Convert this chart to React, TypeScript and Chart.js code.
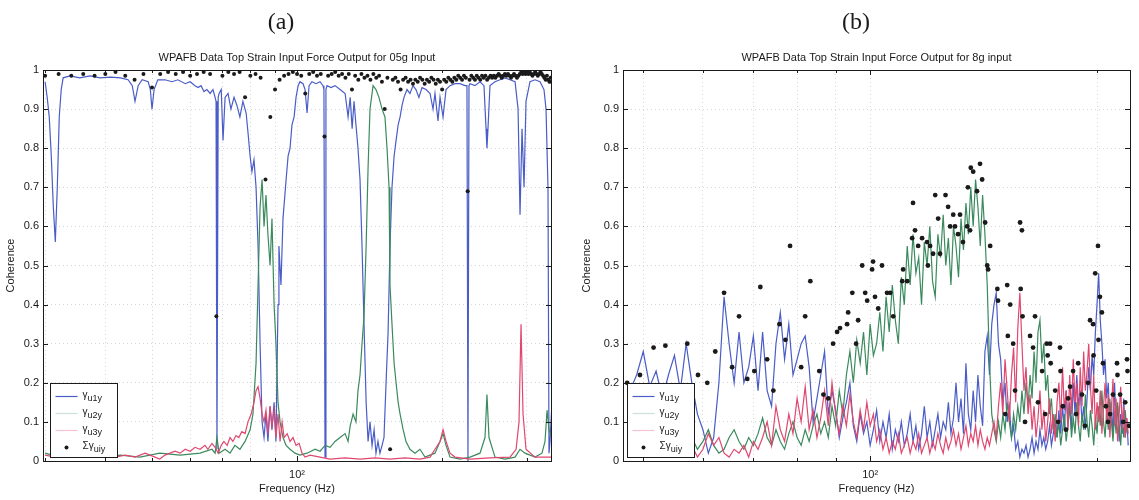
import { useEffect, useRef } from "react";
import { Chart, registerables } from "chart.js";

Chart.register(...registerables);

const FONT = '"Liberation Sans", Arial, Helvetica, sans-serif';
const INK = "#1a1a1a";
const GRID = "rgba(0,0,0,0.16)";
const BLUE = "#4a5cc8";
const GREEN = "#3b8a5e";
const RED = "#e0476f";

const coherenceTicks = [0, 0.1, 0.2, 0.3, 0.4, 0.5, 0.6, 0.7, 0.8, 0.9, 1];

// ---------------- (a) 0.5 g input ----------------
const aTitle = "WPAFB Data Top Strain Input Force Output for 05g Input";
const aRangeHz = [29.7, 336.5];
const aGridHz = [30, 40, 50, 60, 70, 80, 90, 100, 200, 300];

const aU1yHz = [
  30.0, 30.3, 30.6, 30.9, 31.2, 31.5, 31.8, 32.1, 32.4, 32.7,
  33.8, 35.4, 37.2, 39.0, 41.0, 43.0, 44.6, 45.5, 46.1, 46.8,
  47.7, 49.1, 49.6, 50.0, 50.5, 51.4, 53.2, 55.0, 56.6, 58.6,
  60.0, 61.4, 62.3, 63.2, 64.1, 65.0, 66.0, 66.9, 67.6, 67.9,
  68.2, 68.6, 68.9, 69.6, 70.2, 70.9, 71.9, 72.9, 74.0, 75.0,
  76.1, 77.2, 78.4, 79.1, 79.9, 80.6, 81.4, 82.2, 83.0, 83.8,
  84.6, 85.4, 86.2, 87.0, 87.9, 88.7, 89.6, 90.4, 91.3, 91.7,
  92.6, 93.5, 94.9, 95.8, 96.7, 97.6, 98.6, 99.5, 100.5, 101.4,
  102.9, 103.9, 104.9, 105.9, 107.4, 109.5, 111.6, 113.2, 113.7, 114.3,
  114.8, 115.4, 117.6, 119.9, 122.8, 125.8, 127.6, 128.9, 130.1, 131.3,
  132.5, 133.8, 135.1, 136.4, 137.7, 139.1, 140.4, 141.7, 143.1, 144.5,
  145.8, 147.2, 148.6, 150.1, 151.5, 153.0, 154.5, 155.9, 157.4, 159.0,
  160.5, 162.1, 163.6, 165.2, 166.7, 169.1, 171.5, 174.0, 176.5, 179.0,
  181.7, 185.2, 188.8, 191.5, 193.3, 196.1, 198.0, 200.9, 203.8, 207.7,
  212.7, 217.8, 223.1, 225.2, 226.3, 227.4, 228.5, 234.0, 239.7, 244.3,
  246.7, 247.8, 249.0, 251.4, 257.5, 263.7, 270.1, 276.6, 283.4, 287.5,
  290.2, 293.0, 295.8, 298.6, 304.4, 311.8, 319.3, 325.4, 328.6, 331.7,
  333.3, 334.9, 338.1,
];
const aU1y = [
  0.97, 0.93, 0.88, 0.78, 0.65, 0.56, 0.7, 0.88, 0.95, 0.98,
  0.985, 0.98, 0.985, 0.98, 0.982, 0.98, 0.975, 0.96, 0.92, 0.96,
  0.975, 0.97, 0.95, 0.9, 0.95, 0.975, 0.975, 0.97, 0.975, 0.965,
  0.97, 0.96, 0.955, 0.96, 0.945, 0.95, 0.94, 0.95, 0.93, 0.92,
  0.03, 0.93, 0.94, 0.95, 0.82, 0.93, 0.94, 0.9, 0.93, 0.91,
  0.88, 0.92, 0.89, 0.84, 0.78, 0.74, 0.77, 0.7, 0.55, 0.3,
  0.1, 0.06, 0.12, 0.05, 0.14, 0.08, 0.15, 0.05, 0.4, 0.55,
  0.45, 0.62, 0.72, 0.78, 0.8, 0.86, 0.88, 0.93, 0.96, 0.97,
  0.965, 0.95, 0.89, 0.96, 0.97, 0.965, 0.97, 0.96, 0.95, 0.01,
  0.95, 0.96, 0.955, 0.96, 0.95, 0.94, 0.88, 0.93, 0.85, 0.92,
  0.86, 0.8, 0.72, 0.55, 0.35, 0.15, 0.05, 0.1, 0.04, 0.08,
  0.02, 0.05, 0.02, 0.04, 0.06, 0.2, 0.33, 0.55, 0.7, 0.78,
  0.82, 0.86, 0.88, 0.91, 0.93, 0.95, 0.94, 0.96, 0.95, 0.93,
  0.955, 0.95, 0.94, 0.9, 0.94, 0.87, 0.93, 0.88, 0.95, 0.96,
  0.965, 0.965, 0.96, 0.96, 0.0, 0.96, 0.965, 0.96, 0.97, 0.96,
  0.85, 0.8, 0.85, 0.96, 0.97, 0.975, 0.98, 0.975, 0.97, 0.9,
  0.63, 0.85, 0.7, 0.92, 0.97, 0.975, 0.97, 0.95, 0.9, 0.7,
  0.02, 0.05, 0.15,
];

const aU2yHz = [
  30.0, 32.2, 35.4, 39.0, 43.0, 47.2, 51.9, 57.2, 62.9, 66.6,
  67.6, 68.2, 68.9, 70.9, 72.6, 74.3, 76.1, 78.0, 79.9, 81.0,
  82.2, 83.0, 83.8, 84.6, 85.4, 86.2, 87.0, 87.9, 88.7, 89.6,
  90.4, 91.3, 92.2, 93.5, 94.9, 96.7, 99.0, 101.4, 104.9, 109.0,
  111.6, 114.3, 117.1, 119.9, 122.8, 125.8, 127.6, 128.9, 130.7, 132.5,
  133.8, 135.1, 136.4, 137.7, 139.1, 140.4, 141.7, 143.8, 145.8, 147.9,
  150.1, 152.2, 153.7, 155.2, 155.9, 157.4, 159.0, 160.5, 162.1, 163.6,
  166.0, 168.3, 171.5, 175.7, 179.9, 184.3, 193.3, 198.0, 200.9, 203.8,
  207.7, 217.8, 228.5, 239.7, 245.5, 247.8, 250.2, 257.5, 270.1, 283.4,
  290.2, 297.2, 311.8, 322.3, 327.0, 330.2, 333.3, 339.8,
];
const aU2y = [
  0.02, 0.01, 0.015, 0.01, 0.015, 0.01, 0.02, 0.015, 0.02, 0.03,
  0.02, 0.06, 0.02, 0.03, 0.02, 0.04, 0.03, 0.05, 0.08, 0.12,
  0.25, 0.45, 0.65, 0.72, 0.6, 0.68, 0.58, 0.5, 0.62, 0.4,
  0.3, 0.15, 0.1, 0.06, 0.04, 0.03, 0.02, 0.015, 0.02, 0.03,
  0.025, 0.04, 0.035, 0.05, 0.06, 0.07, 0.05, 0.09, 0.12, 0.1,
  0.18, 0.22, 0.3, 0.37, 0.55, 0.75, 0.9, 0.96, 0.95, 0.93,
  0.9, 0.88, 0.8, 0.7, 0.45, 0.35, 0.25, 0.2, 0.15, 0.12,
  0.08, 0.05, 0.03, 0.02, 0.03, 0.01, 0.02, 0.05, 0.07, 0.04,
  0.01, 0.005, 0.01, 0.02, 0.06, 0.17, 0.06, 0.01, 0.005, 0.01,
  0.03, 0.02, 0.01, 0.02, 0.05, 0.13, 0.08, 0.05,
];

const aU3yHz = [
  30.0, 31.5, 33.0, 34.6, 36.3, 38.1, 40.0, 41.9, 44.0, 46.1,
  48.4, 50.7, 51.9, 53.2, 54.5, 55.8, 57.2, 58.6, 60.0, 61.4,
  62.9, 64.4, 65.3, 66.6, 67.6, 68.6, 69.6, 70.5, 71.6, 72.6,
  73.6, 74.7, 75.7, 76.8, 78.0, 79.1, 80.3, 81.4, 82.2, 83.0,
  83.8, 84.6, 85.4, 86.2, 87.0, 87.9, 88.7, 89.6, 90.4, 91.3,
  92.2, 93.1, 94.0, 95.4, 96.7, 98.1, 99.5, 101.0, 102.4, 103.9,
  106.4, 111.6, 117.1, 125.8, 135.1, 145.1, 155.9, 167.5, 179.9, 188.8,
  193.3, 198.0, 200.9, 203.8, 207.7, 212.7, 228.5, 251.4, 276.6, 284.8,
  288.8, 291.6, 294.4, 298.6, 311.8, 339.8,
];
const aU3y = [
  0.015, 0.01, 0.02, 0.015, 0.01, 0.015, 0.02, 0.01, 0.015, 0.01,
  0.02, 0.01, 0.005, 0.015, 0.02, 0.025, 0.02, 0.03, 0.025, 0.035,
  0.03, 0.04, 0.03, 0.045, 0.035, 0.02, 0.04, 0.05, 0.04, 0.06,
  0.05, 0.065, 0.06, 0.075, 0.07, 0.1, 0.12, 0.15, 0.18, 0.19,
  0.16, 0.12, 0.1, 0.13, 0.07, 0.14, 0.09, 0.13, 0.06, 0.12,
  0.05, 0.1, 0.06, 0.07, 0.05, 0.06, 0.04, 0.045, 0.02, 0.01,
  0.015, 0.01, 0.005, 0.008, 0.005, 0.008, 0.005, 0.008, 0.005, 0.01,
  0.03, 0.05, 0.08, 0.05, 0.02, 0.01, 0.005, 0.008, 0.01, 0.03,
  0.1, 0.35, 0.12, 0.03, 0.01, 0.01,
];

const aSumHz = [
  30, 32, 34, 36, 38, 40, 42, 44, 46, 48,
  50, 52, 54, 56, 58, 60, 62, 64, 66, 68,
  70, 72, 74, 76, 78, 80, 82, 84, 86, 88,
  90, 92, 94, 96, 98, 100, 102, 104, 106, 108,
  110, 112, 114, 116, 118, 120, 122, 124, 126, 128,
  130, 132, 134, 136, 138, 140, 142, 144, 146, 148,
  150, 152, 154, 156, 158, 160, 162, 164, 166, 168,
  170, 172, 174, 176, 178, 180, 182, 184, 186, 188,
  190, 192, 194, 196, 198, 200, 202, 204, 206, 208,
  210, 212, 214, 216, 218, 220, 222, 224, 226, 228,
  230, 232, 234, 236, 238, 240, 242, 244, 246, 248,
  250, 252, 254, 256, 258, 260, 262, 264, 266, 268,
  270, 272, 274, 276, 278, 280, 282, 284, 286, 288,
  290, 292, 294, 296, 298, 300, 302, 304, 306, 308,
  310, 312, 314, 316, 318, 320, 322, 324, 326, 328,
  330, 332, 334, 336,
];
const aSum = [
  0.985, 0.99, 0.985, 0.99, 0.985, 0.99, 0.995, 0.985, 0.975, 0.99,
  0.955, 0.99, 0.995, 0.99, 0.995, 0.985, 0.99, 0.995, 0.99, 0.37,
  0.985, 0.995, 0.99, 0.995, 0.93, 0.985, 0.99, 0.98, 0.72, 0.88,
  0.95, 0.975, 0.985, 0.99, 0.995, 0.99, 0.985, 0.94, 0.99, 0.995,
  0.985, 0.99, 0.83, 0.985, 0.99, 0.995, 0.985, 0.99, 0.98, 0.99,
  0.95, 0.985, 0.975, 0.99, 0.98, 0.985, 0.975, 0.99, 0.98, 0.985,
  0.97, 0.9, 0.98, 0.03, 0.975, 0.98, 0.97, 0.95, 0.975, 0.98,
  0.97, 0.975, 0.965, 0.975, 0.97, 0.98, 0.975, 0.965, 0.975, 0.97,
  0.98, 0.975, 0.965, 0.975, 0.97, 0.95, 0.975, 0.97, 0.98, 0.975,
  0.97, 0.98, 0.975, 0.985, 0.98, 0.975, 0.985, 0.98, 0.69, 0.975,
  0.985, 0.98, 0.975, 0.985, 0.98, 0.975, 0.985, 0.98, 0.985, 0.975,
  0.98, 0.985, 0.98, 0.985, 0.98, 0.985, 0.99, 0.985, 0.98, 0.985,
  0.99, 0.985, 0.99, 0.985, 0.98, 0.985, 0.99, 0.985, 0.98, 0.985,
  0.99, 0.995, 0.99, 0.995, 0.99, 0.995, 0.99, 0.995, 0.99, 0.985,
  0.99, 0.995, 0.99, 0.985, 0.99, 0.995, 0.99, 0.985, 0.98, 0.975,
  0.985, 0.975, 0.97, 0.98,
];

// ---------------- (b) 8 g input ----------------
const bTitle = "WPAFB Data Top Strain Input Force Output for 8g input";
const bRangeHz = [47.0, 221.2];
const bGridHz = [50, 60, 70, 80, 90, 100, 200];

const bHz = [
  48, 49, 50, 51, 52, 53, 54, 55, 56, 57,
  58, 59, 60, 61, 62, 63, 64, 65, 66, 67,
  68, 69, 70, 71, 72, 73, 74, 75, 76, 77,
  78, 79, 80, 81, 82, 83, 84, 85, 86, 87,
  88, 89, 90, 91, 92, 93, 94, 95, 96, 97,
  98, 99, 100, 101, 102, 103, 104, 105, 106, 107,
  108, 109, 110, 111, 112, 113, 114, 115, 116, 117,
  118, 119, 120, 121, 122, 123, 124, 125, 126, 127,
  128, 129, 130, 131, 132, 133, 134, 135, 136, 137,
  138, 139, 140, 141, 142, 143, 144, 145, 146, 147,
  148, 149, 150, 151, 152, 153, 154, 155, 156, 157,
  158, 159, 160, 161, 162, 163, 164, 165, 166, 167,
  168, 169, 170, 171, 172, 173, 174, 175, 176, 177,
  178, 179, 180, 181, 182, 183, 184, 185, 186, 187,
  188, 189, 190, 191, 192, 193, 194, 195, 196, 197,
  198, 199, 200, 201, 202, 203, 204, 205, 206, 207,
  208, 209, 210, 211, 212, 213, 214, 215, 216, 217,
  218, 219, 220,
];
const bU1y = [
  0.18, 0.22, 0.28, 0.19, 0.23, 0.16, 0.22, 0.27, 0.18, 0.3,
  0.2, 0.12, 0.08, 0.02, 0.06, 0.2, 0.42, 0.3, 0.2, 0.33,
  0.2, 0.24, 0.32, 0.18, 0.33, 0.18, 0.14, 0.3, 0.38, 0.26,
  0.35, 0.22, 0.26, 0.3, 0.32, 0.24, 0.1, 0.16, 0.22, 0.28,
  0.12, 0.18, 0.13, 0.06, 0.11, 0.15, 0.2, 0.09, 0.05, 0.12,
  0.07, 0.1, 0.04, 0.08, 0.13, 0.05, 0.1, 0.06, 0.12, 0.03,
  0.08, 0.05, 0.1, 0.04, 0.07, 0.12, 0.05, 0.09, 0.03, 0.07,
  0.14, 0.06, 0.1, 0.04, 0.08, 0.12, 0.06, 0.1, 0.08, 0.15,
  0.07, 0.11, 0.2, 0.1, 0.16, 0.07, 0.25, 0.12, 0.08, 0.18,
  0.1, 0.22, 0.14, 0.09, 0.28, 0.32, 0.22, 0.35, 0.4, 0.43,
  0.3, 0.26, 0.15, 0.2, 0.1, 0.14, 0.06, 0.09, 0.03, 0.05,
  0.01, 0.03, 0.02, 0.04, 0.01, 0.03, 0.06, 0.02, 0.05, 0.03,
  0.08, 0.04, 0.06, 0.03, 0.05, 0.09, 0.04, 0.07, 0.1, 0.06,
  0.13, 0.07, 0.14, 0.08, 0.18, 0.1, 0.15, 0.08, 0.2, 0.12,
  0.22, 0.14, 0.18, 0.1, 0.14, 0.08, 0.16, 0.24, 0.18, 0.27,
  0.22, 0.33, 0.4, 0.48, 0.36, 0.3, 0.22, 0.26, 0.16, 0.2,
  0.08, 0.15, 0.06, 0.2, 0.1, 0.14, 0.05, 0.12, 0.07, 0.16,
  0.06, 0.11, 0.04,
];
const bU2y = [
  0.02, 0.04, 0.01, 0.03, 0.05, 0.02, 0.04, 0.01, 0.03, 0.02,
  0.06, 0.03, 0.05, 0.08, 0.04, 0.02, 0.03, 0.06, 0.08, 0.05,
  0.03, 0.06, 0.04, 0.07, 0.11, 0.06, 0.04, 0.08, 0.05, 0.03,
  0.07, 0.1, 0.06, 0.04, 0.08, 0.05, 0.09, 0.12, 0.07, 0.1,
  0.06, 0.14, 0.09, 0.18, 0.12, 0.22, 0.28, 0.2, 0.31, 0.25,
  0.33, 0.22, 0.35, 0.27, 0.3, 0.38, 0.28, 0.42, 0.33, 0.45,
  0.36, 0.3, 0.47, 0.4, 0.55, 0.45, 0.58, 0.48, 0.52, 0.4,
  0.56, 0.5, 0.6, 0.46, 0.42, 0.58, 0.52, 0.63, 0.5, 0.57,
  0.45, 0.6, 0.55, 0.47, 0.62, 0.54, 0.66, 0.58, 0.7, 0.6,
  0.72, 0.65, 0.55, 0.68, 0.58, 0.45, 0.25, 0.12, 0.08, 0.05,
  0.1, 0.06, 0.12, 0.08, 0.15, 0.1, 0.06, 0.12, 0.08, 0.14,
  0.1, 0.18, 0.12, 0.2, 0.14, 0.22, 0.16, 0.28, 0.2, 0.33,
  0.36, 0.25, 0.3, 0.18, 0.22, 0.12, 0.16, 0.08, 0.12, 0.06,
  0.1, 0.04, 0.08, 0.12, 0.05, 0.09, 0.14, 0.06, 0.11, 0.07,
  0.15, 0.09, 0.05, 0.12, 0.08, 0.17, 0.1, 0.06, 0.13, 0.09,
  0.04, 0.11, 0.07, 0.14, 0.09, 0.18, 0.1, 0.06, 0.13, 0.08,
  0.16, 0.1, 0.05, 0.12, 0.07, 0.15, 0.09, 0.04, 0.11, 0.06,
  0.13, 0.08, 0.1,
];
const bU3y = [
  0.02, 0.01, 0.03, 0.01, 0.02, 0.04, 0.01, 0.02, 0.05, 0.02,
  0.04, 0.01, 0.03, 0.07, 0.04, 0.06, 0.02, 0.01, 0.03, 0.02,
  0.04, 0.01, 0.05, 0.03, 0.06, 0.1, 0.04, 0.14, 0.08, 0.05,
  0.12, 0.07, 0.16, 0.1, 0.19, 0.08, 0.13, 0.06, 0.11, 0.18,
  0.09, 0.2, 0.12, 0.07, 0.14, 0.09, 0.17, 0.1, 0.06, 0.13,
  0.08, 0.15, 0.09, 0.12, 0.05, 0.08, 0.03, 0.06, 0.02, 0.05,
  0.03, 0.07, 0.02, 0.04, 0.06, 0.02, 0.05, 0.03, 0.07, 0.02,
  0.04, 0.06, 0.02, 0.05, 0.03, 0.07, 0.04, 0.02, 0.06, 0.03,
  0.05, 0.08, 0.04, 0.07, 0.03, 0.06, 0.09, 0.04, 0.07, 0.05,
  0.09, 0.04, 0.08, 0.05, 0.03, 0.06, 0.04, 0.07, 0.1, 0.06,
  0.14, 0.2, 0.12, 0.26, 0.18, 0.1, 0.22, 0.29, 0.15, 0.34,
  0.43, 0.3, 0.18, 0.24, 0.12, 0.17, 0.08, 0.14, 0.06, 0.11,
  0.18, 0.08, 0.13, 0.05, 0.1, 0.16, 0.07, 0.12, 0.05, 0.15,
  0.2, 0.1, 0.24, 0.13, 0.18, 0.08, 0.22, 0.12, 0.26, 0.15,
  0.2, 0.09, 0.24, 0.14, 0.28, 0.18, 0.23, 0.3, 0.19, 0.12,
  0.22, 0.08, 0.15, 0.1, 0.18, 0.07, 0.14, 0.2, 0.1, 0.17,
  0.06, 0.13, 0.21, 0.09, 0.16, 0.05, 0.12, 0.19, 0.08, 0.14,
  0.06, 0.11, 0.07,
];

const bSumHz = [
  47.6, 49.5, 51.6, 53.5, 57.2, 59.1, 60.8, 62.3, 64.0, 65.6,
  67.0, 68.7, 70.2, 71.5, 73.0, 74.4, 75.8, 77.2, 78.3, 81.0,
  82.0, 83.3, 85.6, 86.7, 88.0, 89.3, 90.4, 91.2, 93.2, 93.5,
  94.7, 95.8, 96.4, 97.6, 98.5, 99.1, 100.6, 100.9, 101.5, 102.5,
  103.7, 105.3, 106.3, 107.3, 110.3, 110.6, 112.0, 113.7, 114.0, 114.7,
  115.8, 117.2, 119.0, 119.3, 120.1, 121.2, 122.0, 123.1, 123.8, 125.9,
  126.9, 127.7, 128.9, 129.6, 130.8, 131.6, 132.8, 134.5, 134.8, 135.7,
  136.0, 137.0, 138.6, 139.9, 140.8, 142.1, 143.0, 143.4, 144.3, 147.5,
  147.8, 151.1, 152.0, 152.3, 153.4, 154.8, 155.7, 158.1, 158.4, 159.0,
  159.3, 160.5, 163.0, 164.5, 165.5, 167.0, 169.1, 170.7, 171.5, 172.0,
  173.3, 173.6, 176.0, 177.6, 178.6, 178.9, 180.2, 181.9, 183.1, 184.2,
  185.9, 187.6, 188.8, 191.0, 192.8, 194.6, 195.8, 197.6, 197.9, 198.9,
  199.5, 200.6, 200.9, 201.8, 203.0, 203.7, 205.5, 206.8, 208.1, 210.0,
  212.6, 212.9, 214.6, 216.7, 218.0, 219.2, 219.5, 220.6,
];
const bSum = [
  0.2, 0.22, 0.29, 0.295, 0.3, 0.22, 0.2, 0.28, 0.43, 0.24,
  0.37, 0.21, 0.23, 0.445, 0.26, 0.18, 0.35, 0.31, 0.55, 0.24,
  0.37, 0.46, 0.23, 0.17, 0.16, 0.3, 0.33, 0.34, 0.35, 0.38,
  0.43, 0.3, 0.36, 0.5, 0.43, 0.41, 0.49, 0.51, 0.42, 0.39,
  0.5, 0.43, 0.43, 0.37, 0.46, 0.49, 0.46, 0.57, 0.66, 0.59,
  0.55, 0.57, 0.56, 0.5, 0.55, 0.53, 0.68, 0.62, 0.53, 0.68,
  0.65, 0.6, 0.63, 0.6, 0.58, 0.63, 0.56, 0.6, 0.7, 0.59,
  0.75, 0.74, 0.69, 0.76, 0.72, 0.61, 0.5, 0.49, 0.55, 0.44,
  0.41, 0.12, 0.45, 0.32, 0.4, 0.3, 0.18, 0.61, 0.44, 0.59,
  0.37, 0.1, 0.32, 0.29, 0.37, 0.15, 0.23, 0.12, 0.3, 0.27,
  0.3, 0.25, 0.18, 0.1, 0.29, 0.23, 0.14, 0.08, 0.16, 0.19,
  0.23, 0.12, 0.25, 0.17, 0.09, 0.2, 0.36, 0.35, 0.27, 0.48,
  0.18, 0.55, 0.31, 0.42, 0.38, 0.25, 0.14, 0.1, 0.12, 0.17,
  0.25, 0.22, 0.17, 0.1, 0.15, 0.26, 0.23, 0.09,
];

type Series = { hz: number[]; coh: number[]; color: string };

type PanelSpec = {
  tag: string;
  tagX: number;
  left: number;
  width: number;
  plotLeft: number;
  plotRight: number;
  yTitlePad: number;
  legendInset: number;
  title: string;
  rangeHz: number[];
  gridHz: number[];
  u1y: Series;
  u2y: Series;
  u3y: Series;
  sum: { hz: number[]; coh: number[]; radius: number };
};

const panels: PanelSpec[] = [
  {
    tag: "(a)",
    tagX: 281,
    left: 0,
    width: 570,
    plotLeft: 43,
    plotRight: 551,
    yTitlePad: 4,
    legendInset: 7,
    title: aTitle,
    rangeHz: aRangeHz,
    gridHz: aGridHz,
    u1y: { hz: aU1yHz, coh: aU1y, color: BLUE },
    u2y: { hz: aU2yHz, coh: aU2y, color: GREEN },
    u3y: { hz: aU3yHz, coh: aU3y, color: RED },
    sum: { hz: aSumHz, coh: aSum, radius: 2.0 },
  },
  {
    tag: "(b)",
    tagX: 286,
    left: 570,
    width: 569,
    plotLeft: 53,
    plotRight: 560,
    yTitlePad: 10,
    legendInset: 4,
    title: bTitle,
    rangeHz: bRangeHz,
    gridHz: bGridHz,
    u1y: { hz: bHz, coh: bU1y, color: BLUE },
    u2y: { hz: bHz, coh: bU2y, color: GREEN },
    u3y: { hz: bHz, coh: bU3y, color: RED },
    sum: { hz: bSumHz, coh: bSum, radius: 2.4 },
  },
];

const legendRows = [
  { main: "γ", sub: "u1y", color: BLUE, dot: false },
  { main: "γ", sub: "u2y", color: "rgba(90,160,115,0.3)", dot: false },
  { main: "γ", sub: "u3y", color: "rgba(230,120,150,0.45)", dot: false },
  { main: "Σγ", sub: "uiy", color: INK, dot: true },
];

const toPoints = (hz: number[], coh: number[]) => hz.map((x, i) => ({ x, y: coh[i] }));

function lineDataset(s: Series, order: number) {
  return {
    type: "line" as const,
    data: toPoints(s.hz, s.coh),
    borderColor: s.color,
    borderWidth: 1.2,
    pointRadius: 0,
    tension: 0,
    fill: false,
    order,
  };
}

function buildConfig(spec: PanelSpec): any {
  const axesDecor = {
    id: "axesDecor",
    afterDraw(chart: any) {
      const { ctx, chartArea: a, scales } = chart;
      const xs = scales.x;
      const ys = scales.y;
      ctx.save();
      ctx.strokeStyle = INK;
      ctx.lineWidth = 1;
      ctx.beginPath();
      for (const v of coherenceTicks) {
        const py = Math.round(ys.getPixelForValue(v)) + 0.5;
        ctx.moveTo(a.left, py);
        ctx.lineTo(a.left + 5, py);
        ctx.moveTo(a.right, py);
        ctx.lineTo(a.right - 5, py);
      }
      for (const f of spec.gridHz) {
        const px = Math.round(xs.getPixelForValue(f)) + 0.5;
        const len = f === 100 ? 5 : 3;
        ctx.moveTo(px, a.bottom);
        ctx.lineTo(px, a.bottom - len);
        ctx.moveTo(px, a.top);
        ctx.lineTo(px, a.top + len);
      }
      ctx.stroke();
      ctx.strokeRect(
        Math.round(a.left) + 0.5,
        Math.round(a.top) + 0.5,
        Math.round(a.right - a.left),
        Math.round(a.bottom - a.top)
      );

      // title
      ctx.fillStyle = INK;
      ctx.font = `11px ${FONT}`;
      ctx.textAlign = "center";
      ctx.textBaseline = "middle";
      ctx.fillText(spec.title, (a.left + a.right) / 2, a.top - 12);

      // legend
      const bx = Math.round(a.left + spec.legendInset) + 0.5;
      const by = 383.5;
      const bw = 67;
      const bh = 74;
      ctx.fillStyle = "#ffffff";
      ctx.fillRect(bx, by, bw, bh);
      ctx.strokeStyle = INK;
      ctx.strokeRect(bx, by, bw, bh);
      const rowY = [13, 30, 47, 64];
      legendRows.forEach((row, i) => {
        const y = by + rowY[i];
        if (row.dot) {
          ctx.fillStyle = INK;
          ctx.beginPath();
          ctx.arc(bx + 16, y, 2, 0, Math.PI * 2);
          ctx.fill();
        } else {
          ctx.strokeStyle = row.color;
          ctx.lineWidth = 1.2;
          ctx.beginPath();
          ctx.moveTo(bx + 5, y);
          ctx.lineTo(bx + 27, y);
          ctx.stroke();
        }
        ctx.fillStyle = INK;
        ctx.textAlign = "left";
        ctx.textBaseline = "middle";
        ctx.font = `10px ${FONT}`;
        const tx = bx + 32;
        ctx.fillText(row.main, tx, y - 1);
        const w = ctx.measureText(row.main).width;
        ctx.font = `9px ${FONT}`;
        ctx.fillText(row.sub, tx + w, y + 2);
      });
      ctx.restore();
    },
  };

  return {
    type: "line",
    data: {
      datasets: [
        lineDataset(spec.u1y, 3),
        lineDataset(spec.u2y, 2),
        lineDataset(spec.u3y, 1),
        {
          type: "line",
          data: toPoints(spec.sum.hz, spec.sum.coh),
          showLine: false,
          pointRadius: spec.sum.radius,
          pointBackgroundColor: INK,
          pointBorderWidth: 0,
          order: 0,
        },
      ],
    },
    options: {
      animation: false,
      responsive: false,
      devicePixelRatio: 1,
      events: [],
      layout: {
        padding: { top: 70, right: spec.width - spec.plotRight, bottom: 0, left: 0 },
      },
      plugins: {
        legend: { display: false },
        tooltip: { enabled: false },
        title: { display: false },
      },
      scales: {
        x: {
          type: "logarithmic",
          min: spec.rangeHz[0],
          max: spec.rangeHz[1],
          afterBuildTicks: (s: any) => {
            s.ticks = spec.gridHz.map((value) => ({ value }));
          },
          afterFit: (s: any) => {
            s.height = 39;
          },
          ticks: {
            autoSkip: false,
            maxRotation: 0,
            padding: 7,
            color: INK,
            font: { family: FONT, size: 11 },
            callback: (v: any) => (Number(v) === 100 ? "10²" : ""),
          },
          grid: { color: GRID, drawTicks: false, lineWidth: 1 },
          border: { display: false, dash: [1, 3] },
          title: {
            display: true,
            text: "Frequency (Hz)",
            color: INK,
            font: { family: FONT, size: 11 },
            padding: { top: 0, bottom: 4 },
          },
        },
        y: {
          min: 0,
          max: 1,
          afterBuildTicks: (s: any) => {
            s.ticks = coherenceTicks.map((value) => ({ value }));
          },
          afterFit: (s: any) => {
            s.width = spec.plotLeft;
          },
          ticks: {
            padding: 4,
            color: INK,
            font: { family: FONT, size: 11 },
            callback: (v: any) => {
              const n = Number(v);
              if (n === 0) return "0";
              if (n >= 0.999) return "1";
              return n.toFixed(1);
            },
          },
          grid: { color: GRID, drawTicks: false, lineWidth: 1 },
          border: { display: false, dash: [1, 3] },
          title: {
            display: true,
            text: "Coherence",
            color: INK,
            font: { family: FONT, size: 11 },
            padding: { top: spec.yTitlePad, bottom: 0 },
          },
        },
      },
    },
    plugins: [axesDecor],
  };
}

function Panel({ spec }: { spec: PanelSpec }) {
  const ref = useRef<HTMLCanvasElement | null>(null);
  useEffect(() => {
    if (!ref.current) return;
    const chart = new Chart(ref.current, buildConfig(spec));
    return () => chart.destroy();
  }, [spec]);
  return (
    <div style={{ position: "absolute", left: spec.left, top: 0, width: spec.width, height: 500 }}>
      <canvas ref={ref} width={spec.width} height={500} style={{ position: "absolute", left: 0, top: 0 }} />
      <div
        style={{
          position: "absolute",
          left: spec.tagX - 40,
          width: 80,
          top: 6,
          textAlign: "center",
          fontFamily: '"Liberation Serif", "Times New Roman", serif',
          fontSize: 24,
          color: INK,
          lineHeight: "30px",
        }}
      >
        {spec.tag}
      </div>
    </div>
  );
}

export default function App() {
  return (
    <div
      style={{
        position: "absolute",
        left: 0,
        top: 0,
        width: 1139,
        height: 500,
        background: "#ffffff",
        overflow: "hidden",
      }}
    >
      {panels.map((p) => (
        <Panel key={p.tag} spec={p} />
      ))}
    </div>
  );
}
